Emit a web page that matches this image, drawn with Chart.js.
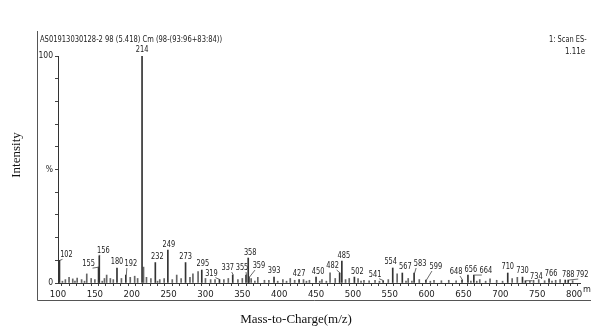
<!DOCTYPE html>
<html>
<head>
<meta charset="utf-8">
<script src="https://cdn.jsdelivr.net/npm/chart.js@4.4.1/dist/chart.umd.min.js"></script>
<style>
  html, body { margin: 0; padding: 0; background: #fff; }
  #wrap { width: 591px; height: 330px; }
</style>
</head>
<body>
<div id="wrap"><canvas id="spec" width="591" height="330"></canvas></div>
<script>
/* =========================
   DATA
========================= */

// labelled peaks (m/z, relative intensity %)
const peakMz = [102, 155, 156, 180, 192, 214, 232, 249, 273, 295, 319, 337, 355, 358, 359,
  393, 427, 450, 482, 485, 502, 541, 554, 567, 583, 599, 648, 656, 664, 710, 730, 734, 766, 788, 792];
const peakInt = [10, 7, 12, 6.6, 3.5, 100, 9, 14.5, 9, 5.7, 1.5, 3.5, 3.5, 11, 2.6,
  2.6, 1.5, 2.6, 4.4, 9.7, 2.6, 1, 6.6, 4.4, 4.4, 1.3, 1.3, 3.5, 3.5, 4.4, 2.6, 1, 1.8, 1.3, 1.3];

// small unlabelled peaks
const minorMz = [106, 110, 115, 120, 123, 126, 132, 136, 139, 145, 150, 160, 163, 166, 171, 175,
  186, 198, 204, 208, 216, 220, 226, 235, 238, 244, 255, 261, 267, 279, 283, 290, 300, 307, 313,
  325, 331, 344, 350, 362, 367, 371, 380, 386, 398, 405, 410, 415, 421, 433, 437, 441, 455, 458,
  464, 469, 476, 490, 495, 507, 511, 515, 522, 530, 536, 548, 560, 572, 575, 580, 590, 605, 610,
  620, 630, 640, 660, 668, 672, 680, 686, 695, 703, 716, 723, 740, 745, 752, 760, 770, 775, 781, 798];
const minorInt = [0.8, 1.5, 2.5, 1.8, 0.8, 2.2, 1.5, 0.8, 4, 2, 1.5, 0.8, 2, 3.5, 2, 1.5,
  2, 2.5, 3, 2, 7, 2.5, 2, 0.8, 1.5, 2, 1.5, 3.5, 2, 2.5, 4, 5, 2, 1.5, 1.5,
  1.5, 2, 1.5, 2, 2, 0.8, 2.5, 1.2, 1.2, 0.8, 1.5, 0.8, 2, 1.2, 1.5, 0.8, 1.2, 0.8, 1.5,
  0.8, 4.5, 2, 1.5, 2, 2, 0.8, 1.2, 1, 1.2, 0.8, 1.5, 4, 0.8, 2, 0.8, 1.5, 0.8, 1.2,
  1, 1.2, 1, 0.8, 0.8, 1.5, 0.8, 1.8, 1.2, 0.8, 2, 2.5, 0.8, 1.2, 1.5, 1, 0.8, 1.2, 1.5, 1];

const xTicks = [100, 150, 200, 250, 300, 350, 400, 450, 500, 550, 600, 650, 700, 750, 800];

const headerText = "AS01913030128-2 98 (5.418) Cm (98-(93:96+83:84))";

/* =========================
   LABEL PLACEMENT (px offset of label centre from bar top)
========================= */

const labelShift = {
  102: [7, -5], 155: [-10, -3], 156: [4, -5], 192: [5, -11], 232: [2, -6],
  249: [1, -5], 295: [1, -6], 319: [-8, -6], 337: [-5, -7], 355: [-4, -7],
  358: [2, -5], 359: [10, -11], 450: [2, -5], 482: [-7, -7], 485: [2, -5],
  502: [3, -5], 541: [-8, -6], 554: [-2, -6], 567: [3, -6], 583: [6, -9],
  599: [10, -13], 648: [-6, -8], 656: [3, -5], 664: [12, -4], 734: [11, -4],
  766: [2, -5], 788: [3, -5], 792: [14, -5]
};

const SMALL = "'DejaVu Sans Condensed', 'Liberation Sans', Arial, sans-serif";

// text squeezed horizontally, like the narrow font of the instrument printout
function narrowText(ctx, txt, x, y, sx) {
  ctx.save();
  ctx.translate(x, y);
  ctx.scale(sx, 1);
  ctx.fillText(txt, 0, 0);
  ctx.restore();
}

/* =========================
   PLUGIN: text + frame
========================= */

const decorPlugin = {
  id: "decor",
  afterDatasetsDraw(chart) {
    const { ctx, scales } = chart;
    const x = scales.x, y = scales.y;

    ctx.save();
    ctx.fillStyle = "#222";
    ctx.strokeStyle = "#444";
    ctx.lineWidth = 0.8;
    ctx.font = "8px " + SMALL;
    ctx.textAlign = "center";
    ctx.textBaseline = "middle";

    peakMz.forEach((m, i) => {
      const bx = x.getPixelForValue(m);
      const by = y.getPixelForValue(peakInt[i]);
      const s = labelShift[m] || [0, -6];
      const lx = bx + s[0], ly = by + s[1];
      if (Math.abs(s[0]) > 3 || s[1] < -7) {
        ctx.beginPath();
        ctx.moveTo(bx + 0.5, by);
        ctx.lineTo(lx + (s[0] < 0 ? 4 : -4), ly + 4);
        ctx.stroke();
      }
      narrowText(ctx, String(m), lx, ly, 0.92);
    });
    ctx.restore();
  },
  afterDraw(chart) {
    const { ctx } = chart;
    ctx.save();

    // frame
    ctx.strokeStyle = "#555";
    ctx.lineWidth = 1;
    ctx.beginPath();
    ctx.moveTo(37.5, 31);
    ctx.lineTo(37.5, 300.5);
    ctx.lineTo(591, 300.5);
    ctx.stroke();

    ctx.fillStyle = "#222";
    ctx.font = "9.5px " + SMALL;
    ctx.textBaseline = "middle";
    ctx.textAlign = "left";
    narrowText(ctx, headerText, 40, 40, 0.79);
    ctx.font = "9px " + SMALL;
    narrowText(ctx, "1: Scan ES-", 549, 40, 0.82);
    narrowText(ctx, "1.11e", 565, 52, 0.88);
    ctx.fillText("m/", 583, 290);

    // axis titles
    ctx.fillStyle = "#111";
    ctx.font = "13px 'Liberation Serif', 'Times New Roman', serif";
    ctx.textAlign = "center";
    ctx.fillText("Mass-to-Charge(m/z)", 296, 320);
    ctx.save();
    ctx.translate(17, 155);
    ctx.rotate(-Math.PI / 2);
    ctx.fillText("Intensity", 0, 0);
    ctx.restore();

    ctx.restore();
  }
};

/* =========================
   CHART
========================= */

const ctx = document.getElementById("spec");

new Chart(ctx, {
  type: "bar",
  data: {
    datasets: [
      {
        data: peakMz.map((m, i) => ({ x: m, y: peakInt[i] })),
        backgroundColor: "#333",
        barThickness: 1,
        grouped: false
      },
      {
        data: minorMz.map((m, i) => ({ x: m, y: minorInt[i] })),
        backgroundColor: "#666",
        barThickness: 1,
        grouped: false
      }
    ]
  },
  options: {
    responsive: false,
    animation: false,
    layout: { padding: { top: 56, right: 11, left: 0, bottom: 0 } },
    plugins: {
      legend: { display: false },
      tooltip: { enabled: false }
    },
    scales: {
      x: {
        type: "linear",
        min: 100,
        max: 808,
        offset: false,
        afterBuildTicks(scale) {
          const t = [];
          for (let v = 100; v <= 800; v += 10) t.push({ value: v });
          scale.ticks = t;
        },
        afterFit(scale) { scale.height = 47; },
        border: { color: "#333", width: 1 },
        grid: { drawOnChartArea: false, drawTicks: true, tickLength: 3, color: "#444" },
        ticks: {
          autoSkip: false,
          maxRotation: 0,
          padding: 3,
          color: "#222",
          font: { family: SMALL, size: 9.5 },
          callback: v => (xTicks.includes(v) ? String(v) : "")
        }
      },
      y: {
        min: 0,
        max: 100,
        afterBuildTicks(scale) {
          const t = [];
          for (let v = 0; v <= 100; v += 10) t.push({ value: v });
          scale.ticks = t;
        },
        afterFit(scale) { scale.width = 58; },
        border: { color: "#333", width: 1 },
        grid: { drawOnChartArea: false, drawTicks: true, tickLength: 3, color: "#444" },
        ticks: {
          autoSkip: false,
          padding: 2,
          color: "#222",
          font: { family: SMALL, size: 8.5 },
          callback: v => (v === 100 ? "100" : v === 50 ? "%" : v === 0 ? "0" : "")
        }
      }
    }
  },
  plugins: [decorPlugin]
});
</script>
</body>
</html>
